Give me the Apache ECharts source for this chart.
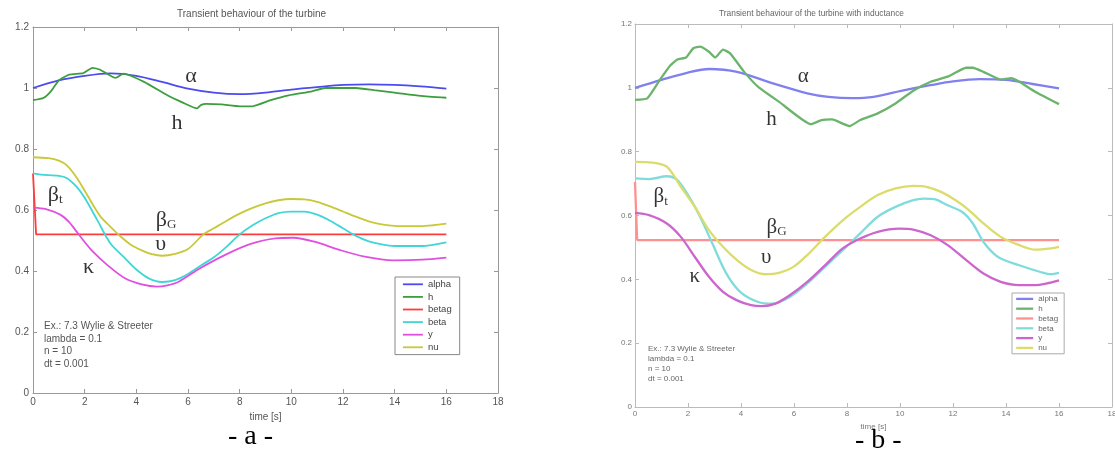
<!DOCTYPE html>
<html>
<head>
<meta charset="utf-8">
<script src="https://cdn.jsdelivr.net/npm/echarts@6/dist/echarts.min.js"></script>
<style>html,body{margin:0;padding:0;background:#fff;}#c{width:1115px;height:452px;}</style>
</head>
<body>
<div id="c"></div>
<script>
// ---------- DATA ----------
const seriesNames = ['alpha', 'h', 'betag', 'beta', 'y', 'nu'];
const xTicks = {min: 0, max: 18, interval: 2};
const yTicks = {min: 0, max: 1.2, interval: 0.2};

// Chart (a): Transient behaviour of the turbine
const aAlpha = [[0,1.0],[1,1.025],[2,1.04],[3,1.048],[4,1.04],[5,1.02],[6,0.998],[7,0.985],[8,0.98],[9,0.985],[10,0.995],[11,1.003],[12,1.01],[13,1.012],[14,1.01],[15,1.005],[16,0.998]];
const aH = [[0,0.96],[0.4,0.967],[0.7,0.99],[1.0,1.025],[1.4,1.044],[1.95,1.049],[2.3,1.066],[2.6,1.06],[3.0,1.04],[3.2,1.033],[3.5,1.047],[4.3,1.02],[5.2,0.976],[5.8,0.952],[6.35,0.933],[6.5,0.944],[6.7,0.948],[7.3,0.946],[8.0,0.94],[8.5,0.94],[9.2,0.96],[9.9,0.976],[10.8,0.989],[11.3,1.0],[12.5,1.0],[13.2,0.993],[14.0,0.985],[15.0,0.974],[16,0.968]];
const aBetag = [[0,0.72],[0.12,0.52],[16,0.52]];
const aBeta = [[0,0.72],[0.3,0.716],[1.0,0.712],[1.3,0.705],[1.7,0.675],[2.0,0.64],[2.5,0.565],[3.0,0.49],[3.5,0.447],[4.0,0.405],[4.5,0.375],[5.0,0.364],[5.5,0.37],[6.0,0.39],[6.5,0.418],[7.0,0.445],[7.5,0.48],[8.0,0.52],[8.5,0.55],[9.0,0.573],[9.5,0.59],[10.0,0.595],[10.5,0.595],[11.0,0.585],[11.5,0.565],[12.0,0.54],[12.5,0.515],[13.0,0.497],[13.5,0.487],[14.0,0.482],[15.0,0.482],[15.5,0.486],[16.0,0.494]];
const aY = [[0,0.608],[0.5,0.603],[1.07,0.584],[1.4,0.56],[1.69,0.529],[2.0,0.495],[2.31,0.464],[2.87,0.42],[3.56,0.376],[4.25,0.355],[4.8,0.349],[5.2,0.353],[5.64,0.365],[6.47,0.409],[7.44,0.453],[8.4,0.488],[9.38,0.507],[10.07,0.509],[10.9,0.496],[11.87,0.469],[12.84,0.447],[13.95,0.435],[15.06,0.437],[16,0.444]];
const aNu = [[0,0.773],[0.6,0.77],[1.0,0.762],[1.3,0.747],[1.7,0.705],[2.1,0.649],[2.6,0.58],[3.0,0.545],[3.3,0.52],[3.8,0.485],[4.25,0.466],[4.6,0.455],[5.0,0.45],[5.5,0.456],[6.0,0.472],[6.6,0.52],[7.0,0.54],[7.5,0.565],[8.0,0.588],[8.5,0.607],[9.0,0.622],[9.5,0.632],[10.0,0.636],[10.5,0.635],[11.0,0.627],[11.5,0.612],[12.0,0.595],[12.5,0.578],[13.0,0.563],[13.5,0.553],[14.0,0.548],[15.0,0.547],[15.5,0.55],[16.0,0.555]];
const aLabelPos = [[6.12,1.04],[5.57,0.884],[0.86,0.649],[5.15,0.567],[4.94,0.488],[2.15,0.411]];

// Chart (b): Transient behaviour of the turbine with inductance
const bAlpha = [[0,1.0],[1,1.025],[2,1.048],[2.8,1.059],[3.85,1.05],[5.2,1.014],[6.5,0.983],[7.3,0.972],[8.2,0.968],[9,0.972],[10,0.99],[11.2,1.009],[12,1.02],[13,1.027],[14,1.025],[15,1.012],[16,0.998]];
const bH = [[0,0.962],[0.46,0.967],[0.93,1.024],[1.33,1.07],[1.6,1.089],[1.93,1.095],[2.2,1.124],[2.46,1.129],[2.79,1.113],[3.03,1.095],[3.32,1.12],[3.59,1.108],[4.12,1.05],[4.65,1.003],[5.44,0.956],[6.64,0.886],[7.04,0.899],[7.44,0.901],[7.84,0.888],[8.1,0.88],[8.5,0.899],[9.16,0.92],[9.83,0.951],[10.5,0.991],[11.16,1.019],[11.8,1.035],[12.5,1.063],[12.75,1.063],[13.15,1.05],[13.8,1.026],[14.2,1.03],[14.5,1.019],[15.1,0.988],[16,0.949]];
const bBetag = [[0,0.705],[0.08,0.523],[16,0.523]];
const bBeta = [[0,0.716],[0.53,0.714],[1.2,0.723],[1.6,0.711],[2.12,0.648],[2.52,0.585],[2.92,0.512],[3.45,0.418],[3.98,0.36],[4.65,0.329],[5.18,0.324],[5.84,0.345],[6.5,0.387],[7.17,0.439],[7.84,0.491],[8.5,0.544],[9.16,0.596],[9.83,0.627],[10.5,0.648],[10.9,0.653],[11.3,0.651],[11.8,0.632],[12.35,0.611],[12.75,0.575],[13.15,0.517],[13.7,0.47],[14.5,0.444],[15.3,0.423],[15.7,0.416],[16,0.42]];
const bY = [[0,0.608],[0.53,0.601],[1.2,0.575],[1.73,0.533],[2.26,0.47],[2.79,0.408],[3.32,0.361],[3.85,0.334],[4.38,0.319],[4.78,0.316],[5.3,0.324],[5.84,0.35],[6.5,0.392],[7.17,0.444],[7.84,0.497],[8.5,0.528],[9.16,0.549],[9.96,0.559],[10.5,0.556],[11.16,0.538],[11.8,0.507],[12.5,0.46],[13.15,0.418],[13.8,0.392],[14.5,0.382],[15.1,0.382],[16,0.397]];
const bNu = [[0,0.768],[0.66,0.766],[1.2,0.753],[1.73,0.69],[2.26,0.627],[2.79,0.554],[3.32,0.502],[3.85,0.46],[4.38,0.429],[4.9,0.416],[5.44,0.42],[5.98,0.439],[6.5,0.476],[7.17,0.533],[7.84,0.585],[8.5,0.627],[9.16,0.664],[9.83,0.685],[10.5,0.693],[11.0,0.69],[11.55,0.674],[12.1,0.648],[12.6,0.617],[13.15,0.575],[13.8,0.533],[14.5,0.507],[15.1,0.493],[15.7,0.497],[16,0.502]];
const bLabelPos = [[6.35,1.037],[5.15,0.901],[0.97,0.659],[5.34,0.564],[4.95,0.47],[2.26,0.41]];

const curveLabels = ['α', 'h', 'β{s|t}', 'β{s|G}', 'υ', 'κ'];
const titleA = 'Transient behaviour of the turbine';
const titleB = 'Transient behaviour of the turbine with inductance';
const noteLines = ['Ex.: 7.3 Wylie & Streeter', 'lambda = 0.1', 'n = 10', 'dt = 0.001'];
const xName = 'time [s]';

// ---------- STYLE ----------
const colorsA = ['#4b4bf0', '#3c9e3c', '#ff3c3c', '#40d6d6', '#e050e0', '#c8c83a'];
const colorsB = ['#8080ee', '#6cb46c', '#ff9090', '#80dcdc', '#cc66cc', '#dcdc6c'];
const sans = 'Liberation Sans, Arial, sans-serif';
const serif = 'Liberation Serif, Times New Roman, serif';

function xAx(grid, top, st) {
  return {
    type: 'value', gridIndex: grid, position: top ? 'top' : 'bottom',
    min: xTicks.min, max: xTicks.max, interval: xTicks.interval,
    axisLine: {show: true, onZero: false, lineStyle: {color: st.line, width: 1}},
    axisTick: {show: true, inside: true, length: 4, lineStyle: {color: st.line}},
    axisLabel: {show: !top, fontSize: st.fs, color: st.lab, fontFamily: sans, margin: st.xm},
    splitLine: {show: false},
    name: top ? '' : xName, nameLocation: 'middle', nameGap: st.ng,
    nameTextStyle: {fontSize: st.fs, color: st.lab, fontFamily: sans}
  };
}
function yAx(grid, right, st) {
  return {
    type: 'value', gridIndex: grid, position: right ? 'right' : 'left',
    min: yTicks.min, max: yTicks.max, interval: yTicks.interval,
    axisLine: {show: true, onZero: false, lineStyle: {color: st.line, width: 1}},
    axisTick: {show: true, inside: true, length: 4, lineStyle: {color: st.line}},
    axisLabel: {show: !right, fontSize: st.fs, color: st.lab, fontFamily: sans, margin: st.ym},
    splitLine: {show: false}
  };
}
const stA = {line: '#999', lab: '#555', fs: 10, xm: 4, ym: 4, ng: 15};
const stB = {line: '#bbb', lab: '#777', fs: 8, xm: 3, ym: 3, ng: 10};

const dataA = [aAlpha, aH, aBetag, aBeta, aY, aNu];
const dataB = [bAlpha, bH, bBetag, bBeta, bY, bNu];

const series = [];
function addSeries(data, colors, xi, yi, width) {
  data.forEach((d, i) => {
    series.push({
      type: 'line', name: seriesNames[i], xAxisIndex: xi, yAxisIndex: yi,
      data: d, showSymbol: false, symbol: 'none',
      smooth: i === 2 ? false : (i === 1 ? 0.15 : 0.3),
      lineStyle: {color: colors[i], width: width}, itemStyle: {color: colors[i]},
      z: 2
    });
  });
}
addSeries(dataA, colorsA, 0, 0, 1.8);
addSeries(dataB, colorsB, 2, 2, 2.3);

function addLabels(pos, xi, yi, fs) {
  series.push({
    type: 'scatter', name: 'labels' + xi, xAxisIndex: xi, yAxisIndex: yi,
    data: pos, symbolSize: 1, itemStyle: {color: 'rgba(0,0,0,0)'}, silent: true,
    label: {
      show: true, position: 'inside', color: '#000', fontFamily: serif, fontSize: fs,
      formatter: p => curveLabels[p.dataIndex],
      rich: {s: {fontSize: Math.round(fs * 0.6), fontFamily: serif, color: '#000', verticalAlign: 'bottom', padding: [Math.round(fs*0.45), 0, 0, 0]}}
    },
    z: 5
  });
}
addLabels(aLabelPos, 0, 0, 22);
addLabels(bLabelPos, 2, 2, 21);

function legendData(colors, w) {
  return seriesNames.map((n, i) => ({
    name: n,
    itemStyle: {color: colors[i], opacity: 0, borderWidth: 0},
    lineStyle: {color: colors[i], width: w, opacity: 1}
  }));
}

const option = {
  animation: false,
  backgroundColor: '#fff',
  grid: [
    {left: 33, top: 27, width: 465, height: 366, outerBoundsMode: 'none', containLabel: false},
    {left: 635, top: 24, width: 477, height: 383, outerBoundsMode: 'none', containLabel: false}
  ],
  xAxis: [xAx(0, false, stA), xAx(0, true, stA), xAx(1, false, stB), xAx(1, true, stB)],
  yAxis: [yAx(0, false, stA), yAx(0, true, stA), yAx(1, false, stB), yAx(1, true, stB)],
  legend: [
    {
      data: legendData(colorsA, 1.8), orient: 'vertical', left: 395, top: 277,
      backgroundColor: '#fff', borderColor: '#888', borderWidth: 1,
      padding: [1, 8, 1, 7], itemGap: 0, itemWidth: 20, itemHeight: 12.6,
      selectedMode: false,
      textStyle: {fontSize: 9.5, color: '#444', fontFamily: sans, lineHeight: 12.6}
    },
    {
      data: legendData(colorsB, 2.3), orient: 'vertical', left: 1012, top: 293,
      backgroundColor: '#fff', borderColor: '#aaa', borderWidth: 1,
      padding: [1, 6, 1, 3], itemGap: 0, itemWidth: 17, itemHeight: 9.8,
      selectedMode: false,
      textStyle: {fontSize: 8, color: '#666', fontFamily: sans, lineHeight: 9.8}
    }
  ],
  graphic: [
    {type: 'text', left: 177, top: 9, style: {text: titleA, fontSize: 10, fill: '#555', fontFamily: sans}},
    {type: 'text', left: 719, top: 10, style: {text: titleB, fontSize: 8.4, fill: '#666', fontFamily: sans}},
    {type: 'text', left: 44, top: 320, style: {text: noteLines.join('\n'), fontSize: 10, lineHeight: 12.5, fill: '#555', fontFamily: sans}},
    {type: 'text', left: 648, top: 344, style: {text: noteLines.join('\n'), fontSize: 8, lineHeight: 10, fill: '#666', fontFamily: sans}},
    {type: 'text', left: 228, top: 423, style: {text: '- a -', fontSize: 28, fill: '#000', fontFamily: serif}},
    {type: 'text', left: 855, top: 427, style: {text: '- b -', fontSize: 28, fill: '#000', fontFamily: serif}}
  ],
  series: series
};

const chart = echarts.init(document.getElementById('c'), null, {renderer: 'canvas'});
chart.setOption(option);
</script>
</body>
</html>
